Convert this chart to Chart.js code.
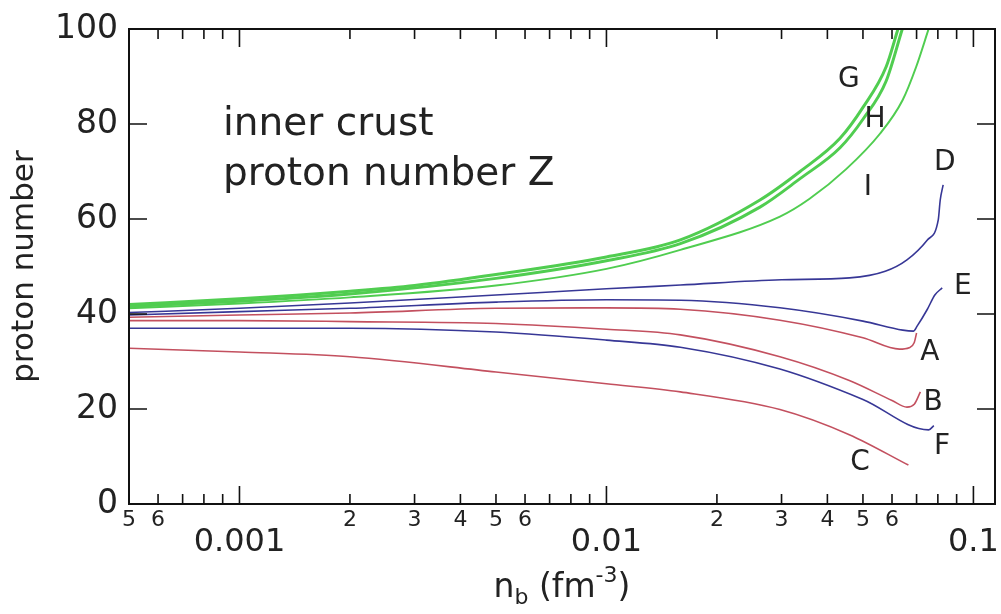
<!DOCTYPE html>
<html>
<head>
<meta charset="utf-8">
<script src="https://cdn.jsdelivr.net/npm/chart.js@4"></script>
<style>
  html, body { margin: 0; padding: 0; background: #fff; }
</style>
</head>
<body>
<canvas id="protonChart" width="1001" height="614"></canvas>
<script>
/* global Chart */
// x = baryon density n_b (fm^-3), y = proton number Z
const gX = [0.0005, 0.001, 0.002, 0.003, 0.005, 0.01, 0.0159, 0.0262, 0.0337, 0.0433, 0.05, 0.0578, 0.0623]
const gY = [42.0, 43.2, 44.8, 46.0, 48.3, 52.0, 55.6, 64.0, 70.0, 77.0, 83.5, 92.0, 100]
const hX = [0.0005, 0.001, 0.002, 0.005, 0.01, 0.0159, 0.0262, 0.0337, 0.0433, 0.05, 0.0578, 0.064]
const hY = [41.6, 42.7, 44.2, 47.5, 51.2, 54.8, 62.5, 68.5, 75.0, 81.0, 89.0, 100]
const iX = [0.0005, 0.001, 0.002, 0.005, 0.01, 0.0159, 0.0297, 0.0357, 0.045, 0.0557, 0.0641, 0.0698, 0.0755]
const iY = [41.2, 42.2, 43.5, 46.0, 49.5, 53.5, 60.5, 64.2, 70.5, 78.0, 85.0, 92.0, 100]
const dX = [0.0005, 0.001, 0.002, 0.005, 0.01, 0.0159, 0.03, 0.046, 0.0575, 0.0659, 0.0749, 0.0802, 0.0812, 0.0827]
const dY = [40.3, 41.2, 42.3, 44.0, 45.3, 46.1, 47.2, 47.6, 49.0, 51.4, 55.6, 59.8, 64.0, 67.2]
const eX = [0.0005, 0.001, 0.002, 0.005, 0.01, 0.0159, 0.0297, 0.05, 0.0642, 0.0686, 0.0703, 0.0749, 0.0785, 0.0822]
const eY = [39.8, 40.5, 41.2, 42.5, 43.0, 42.9, 41.3, 38.5, 36.6, 36.4, 37.5, 41.0, 44.0, 45.5]
const aX = [0.0005, 0.001, 0.002, 0.005, 0.01, 0.0159, 0.0297, 0.05, 0.0629, 0.0668, 0.069, 0.07]
const aY = [39.3, 39.8, 40.2, 41.2, 41.3, 41.0, 38.7, 35.0, 32.6, 32.9, 34.0, 36.0]
const bX = [0.0005, 0.001, 0.002, 0.005, 0.01, 0.0159, 0.0297, 0.0459, 0.06, 0.0659, 0.069, 0.0717]
const bY = [38.6, 38.6, 38.4, 38.0, 36.8, 35.6, 31.0, 26.0, 21.8, 20.4, 21.0, 23.6]
const fX = [0.0005, 0.001, 0.002, 0.005, 0.01, 0.0159, 0.0297, 0.05, 0.0755, 0.078]
const fY = [37.0, 37.0, 37.0, 36.2, 34.5, 33.0, 28.4, 22.0, 15.6, 16.5]
const cX = [0.0005, 0.001, 0.002, 0.005, 0.01, 0.0159, 0.0297, 0.0459, 0.0665]
const cY = [32.8, 32.0, 31.0, 27.8, 25.3, 23.6, 19.9, 14.6, 8.2]

// axis ticks
const xTicks = [0.0005, 0.0006, 0.0007, 0.0008, 0.0009, 0.001, 0.002, 0.003, 0.004, 0.005, 0.006, 0.007, 0.008, 0.009,
  0.01, 0.02, 0.03, 0.04, 0.05, 0.06, 0.07, 0.08, 0.09, 0.1]
const xTickLabels = ['5', '6', '', '', '', '0.001', '2', '3', '4', '5', '6', '', '', '',
  '0.01', '2', '3', '4', '5', '6', '', '', '', '0.1']
const majorTicks = [0.001, 0.01, 0.1]
const yTicks = [20, 40, 60, 80]

// text in the plot
const curveLabelText = ['G', 'H', 'I', 'D', 'E', 'A', 'B', 'F', 'C']
const curveLabelX = [0.0458, 0.0539, 0.0516, 0.0836, 0.0936, 0.0761, 0.0776, 0.0821, 0.0491]
const curveLabelY = [89.3, 80.8, 66.5, 71.8, 45.7, 31.8, 21.3, 12.0, 8.6]
const noteLines = ['inner crust', 'proton number Z']

const green = 'rgb(80, 205, 80)'
const blue = 'rgb(55, 55, 150)'
const red = 'rgb(195, 80, 95)'

function toPoints (xs, ys) {
  return xs.map((x, i) => ({ x, y: ys[i] }))
}

function line (label, xs, ys, color, width) {
  return {
    label,
    data: toPoints(xs, ys),
    borderColor: color,
    borderWidth: width,
    pointRadius: 0,
    fill: false,
    cubicInterpolationMode: 'monotone'
  }
}

const datasets = [
  line('G', gX, gY, green, 3),
  line('H', hX, hY, green, 3),
  line('I', iX, iY, green, 2),
  line('D', dX, dY, blue, 1.6),
  line('E', eX, eY, blue, 1.6),
  line('A', aX, aY, red, 1.6),
  line('B', bX, bY, red, 1.6),
  line('F', fX, fY, blue, 1.6),
  line('C', cX, cY, red, 1.6)
]

// frame, inward ticks and the texts
const framePlugin = {
  id: 'frame',
  afterDraw (chart) {
    const { ctx, chartArea: a, scales: { x, y } } = chart
    ctx.save()
    ctx.strokeStyle = '#111'
    ctx.lineWidth = 2
    ctx.strokeRect(a.left, a.top, a.right - a.left, a.bottom - a.top)
    ctx.lineWidth = 1.6
    ctx.beginPath()
    xTicks.forEach(v => {
      const px = x.getPixelForValue(v)
      const len = majorTicks.includes(v) ? 18 : 10
      ctx.moveTo(px, a.bottom)
      ctx.lineTo(px, a.bottom - len)
      ctx.moveTo(px, a.top)
      ctx.lineTo(px, a.top + len)
    })
    yTicks.forEach(v => {
      const py = y.getPixelForValue(v)
      ctx.moveTo(a.left, py)
      ctx.lineTo(a.left + 18, py)
      ctx.moveTo(a.right, py)
      ctx.lineTo(a.right - 18, py)
    })
    ctx.stroke()

    ctx.fillStyle = '#222'
    ctx.textAlign = 'center'
    ctx.textBaseline = 'middle'
    ctx.font = '28px "DejaVu Sans"'
    curveLabelText.forEach((t, i) => {
      ctx.fillText(t, x.getPixelForValue(curveLabelX[i]), y.getPixelForValue(curveLabelY[i]))
    })

    ctx.textAlign = 'left'
    ctx.textBaseline = 'alphabetic'
    ctx.font = '39px "DejaVu Sans"'
    const noteX = x.getPixelForValue(0.000902)
    ctx.fillText(noteLines[0], noteX, y.getPixelForValue(77.7))
    ctx.fillText(noteLines[1], noteX, y.getPixelForValue(67.2))

    // x axis title with sub- and superscript
    const big = '33px "DejaVu Sans"'
    const small = '22px "DejaVu Sans"'
    const parts = [['n', big, 0], ['b', small, 7], [' (fm', big, 0], ['-3', small, -15], [')', big, 0]]
    let total = 0
    parts.forEach(p => { ctx.font = p[1]; total += ctx.measureText(p[0]).width })
    let tx = (a.left + a.right) / 2 - total / 2
    const ty = x.bottom - 17
    parts.forEach(p => {
      ctx.font = p[1]
      ctx.fillText(p[0], tx, ty + p[2])
      tx += ctx.measureText(p[0]).width
    })
    ctx.restore()
  }
}

Chart.defaults.font.family = '"DejaVu Sans"'
Chart.defaults.color = '#222'

const ctx = document.getElementById('protonChart').getContext('2d')
const protonChart = new Chart(ctx, {
  type: 'line',
  data: { datasets },
  options: {
    responsive: false,
    animation: false,
    layout: { padding: { left: 0, top: 29, right: 6, bottom: 0 } },
    plugins: { legend: { display: false }, tooltip: { enabled: false } },
    scales: {
      x: {
        type: 'logarithmic',
        min: 0.0005,
        max: 0.1145,
        grid: { display: false, drawTicks: false },
        border: { display: false },
        afterBuildTicks: scale => {
          scale.ticks = xTicks.map(v => ({ value: v, major: majorTicks.includes(v) }))
        },
        afterFit: scale => {
          scale.height = 110
          scale.paddingLeft = 0
          scale.paddingRight = 0
        },
        ticks: {
          autoSkip: false,
          maxRotation: 0,
          minRotation: 0,
          padding: 3,
          font: c => (c.tick && c.tick.major) ? { size: 32, lineHeight: 0.75 } : { size: 22, lineHeight: 1.2 },
          callback: (v, i) => majorTicks.includes(xTicks[i]) ? ['', xTickLabels[i]] : xTickLabels[i]
        }
      },
      y: {
        min: 0,
        max: 100,
        grid: { display: false, drawTicks: false },
        border: { display: false },
        afterFit: scale => {
          scale.width = 129
          scale.paddingTop = 0
          scale.paddingBottom = 0
        },
        ticks: { stepSize: 20, padding: 11, font: { size: 33 } },
        title: {
          display: true,
          text: 'proton number',
          font: { size: 31 },
          padding: { top: 6, bottom: 0 }
        }
      }
    }
  },
  plugins: [framePlugin]
})
console.log(protonChart.chartArea)
</script>
</body>
</html>
